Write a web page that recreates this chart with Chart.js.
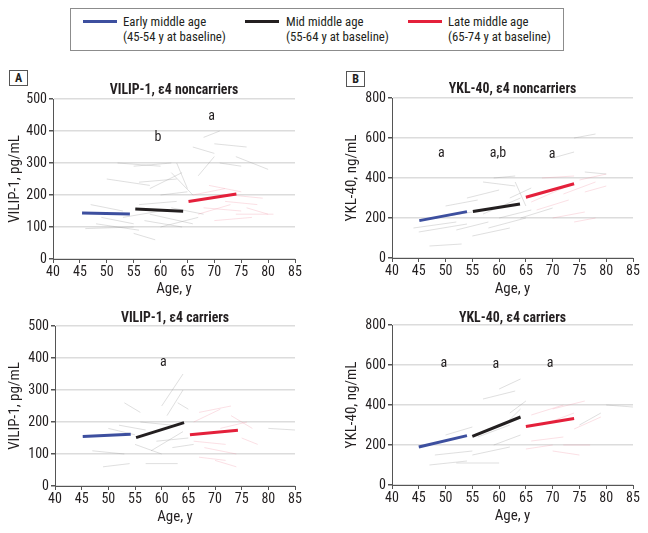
<!DOCTYPE html>
<html>
<head>
<meta charset="utf-8">
<script src="https://cdn.jsdelivr.net/npm/chart.js@4/dist/chart.umd.min.js"></script>
<style>
  body { margin: 0; background: #fff; width: 648px; height: 533px; position: relative; overflow: hidden;
         font-family: "Roboto Condensed", Roboto, sans-serif; color: #231f20; }
  canvas { position: absolute; }
  .legend { position: absolute; left: 70px; top: 8px; width: 492px; height: 41px; border: 1px solid #8c8c8c; }
  .item { position: absolute; top: 5px; font-size: 12.8px; line-height: 15px; }
  .swatch { position: absolute; width: 34px; height: 3px; top: 6px; }
  .item span { position: absolute; white-space: nowrap; }
  .tag { position: absolute; width: 17px; height: 14px; border: 1px solid #555; font-weight: bold;
         font-size: 12px; line-height: 14px; text-align: center; }
</style>
</head>
<body>
<div class="legend">
  <div class="item" style="left:12px"><div class="swatch" style="background:#3d4f9f"></div><span style="left:40px">Early middle age<br>(45-54 y at baseline)</span></div>
  <div class="item" style="left:174px"><div class="swatch" style="background:#231f20"></div><span style="left:41px">Mid middle age<br>(55-64 y at baseline)</span></div>
  <div class="item" style="left:337px"><div class="swatch" style="background:#e4203b"></div><span style="left:40px">Late middle age<br>(65-74 y at baseline)</span></div>
</div>
<div class="tag" style="left:9px;top:70px">A</div>
<div class="tag" style="left:346px;top:71px">B</div>
<canvas id="vilipNon"></canvas>
<canvas id="yklNon"></canvas>
<canvas id="vilipCar"></canvas>
<canvas id="yklCar"></canvas>
<script>
// axis ticks
const ageTicks = [40, 45, 50, 55, 60, 65, 70, 75, 80, 85];
const vilipTicks = [0, 100, 200, 300, 400, 500];
const yklTicks = [0, 200, 400, 600, 800];

const groupColors = ["#3d4f9f", "#231f20", "#e4203b"];

// group mean slopes: [startAge, startValue, endAge, endValue]
const vilipNonMeans = [[45.4, 144, 54.3, 141], [55.3, 156, 64.2, 149], [65.2, 180, 74.1, 203]];
const yklNonMeans = [[45.1, 187, 54.0, 232], [55.1, 232, 63.9, 270], [65.0, 304, 74.0, 371]];
const vilipCarMeans = [[45.2, 155, 54.2, 162], [55.2, 151, 64.2, 198], [65.3, 160, 74.3, 174]];
const yklCarMeans = [[45.0, 190, 54.0, 247], [55.0, 243, 64.0, 340], [65.0, 293, 74.0, 332]];

// individual trajectories (faint), gray and pink
const vilipNonGray = [
  [48, 110, 56, 90], [46, 95, 55, 100], [47, 170, 53, 150], [50, 250, 58, 230], [52, 300, 60, 290],
  [55, 290, 62, 300], [56, 240, 63, 250], [58, 220, 64, 270], [60, 200, 65, 210], [62, 270, 66, 200],
  [63, 300, 65, 220], [66, 350, 70, 330], [67, 260, 70, 320], [68, 380, 71, 400], [70, 360, 76, 350],
  [71, 300, 75, 290], [74, 320, 80, 280], [57, 120, 64, 100], [55, 80, 59, 60], [58, 140, 66, 110],
  [60, 100, 67, 130], [53, 130, 60, 150], [62, 160, 68, 140], [49, 130, 55, 110], [56, 170, 63, 180]
];
const vilipNonPink = [
  [66, 200, 72, 220], [68, 160, 75, 150], [72, 180, 78, 170], [74, 140, 81, 140], [70, 120, 77, 130],
  [73, 200, 79, 190], [67, 140, 73, 170], [76, 160, 80, 140], [69, 230, 75, 210]
];
const yklNonGray = [
  [44, 150, 52, 180], [45, 130, 54, 170], [47, 60, 53, 70], [50, 260, 56, 290], [54, 300, 60, 340],
  [57, 380, 63, 360], [59, 400, 63, 410], [60, 200, 66, 240], [58, 150, 65, 200], [55, 110, 62, 150],
  [62, 300, 66, 350], [63, 380, 65, 260], [48, 200, 55, 230], [52, 140, 58, 180], [64, 200, 70, 250],
  [57, 220, 64, 300], [76, 430, 80, 420], [74, 600, 78, 620], [70, 500, 74, 530]
];
const yklNonPink = [
  [66, 280, 72, 350], [68, 400, 74, 410], [70, 200, 76, 230], [72, 320, 78, 380], [74, 180, 78, 200],
  [75, 390, 80, 420], [76, 330, 80, 360], [67, 240, 73, 290]
];
const vilipCarGray = [
  [49, 60, 54, 70], [57, 70, 63, 70], [52, 190, 57, 175], [53, 260, 56, 230], [55, 130, 60, 100],
  [56, 200, 62, 190], [58, 110, 64, 170], [60, 250, 64, 350], [61, 220, 64, 300], [59, 140, 65, 150],
  [47, 110, 53, 100], [50, 180, 55, 160], [62, 120, 66, 130], [80, 180, 85, 175], [63, 260, 65, 240]
];
const vilipCarPink = [
  [66, 200, 71, 240], [67, 230, 73, 250], [68, 120, 74, 100], [70, 80, 74, 60], [66, 140, 72, 130],
  [71, 180, 76, 200], [73, 220, 77, 180], [75, 150, 78, 130], [67, 90, 72, 80]
];
const yklCarGray = [
  [47, 100, 54, 120], [48, 150, 55, 170], [50, 250, 55, 290], [52, 110, 60, 110], [55, 150, 62, 190],
  [57, 430, 63, 470], [60, 480, 64, 530], [59, 200, 64, 250], [61, 300, 64, 380], [62, 360, 65, 420],
  [56, 240, 62, 300], [80, 400, 85, 390], [75, 300, 79, 360]
];
const yklCarPink = [
  [66, 350, 72, 400], [68, 300, 74, 360], [70, 380, 76, 420], [66, 220, 72, 240], [70, 170, 75, 150],
  [72, 200, 77, 200], [74, 280, 79, 340], [65, 180, 70, 200]
];

// significance marks: [age, value, text]
const vilipNonMarks = [[59.5, 381, "b"], [69.5, 444, "a"]];
const yklNonMarks = [[49.2, 521, "a"], [59.8, 524, "a,b"], [69.9, 516, "a"]];
const vilipCarMarks = [[60.3, 387, "a"]];
const yklCarMarks = [[49.7, 607, "a"], [59.4, 603, "a"], [69.5, 607, "a"]];

const FONT = "'Roboto Condensed', Roboto, sans-serif";
const INK = "#231f20";

// panel title over the plot area plus the significance letters
const panelText = {
  id: "panelText",
  afterDatasetsDraw(chart, args, opts) {
    const { ctx, scales, chartArea } = chart;
    ctx.save();
    ctx.fillStyle = INK;
    ctx.textAlign = "center";
    ctx.textBaseline = "middle";
    ctx.font = "bold 13.8px " + FONT;
    ctx.fillText(opts.title, (chartArea.left + chartArea.right) / 2, opts.titleY);
    ctx.font = "14px " + FONT;
    (opts.marks || []).forEach(([x, y, t]) => {
      ctx.fillText(t, scales.x.getPixelForValue(x), scales.y.getPixelForValue(y));
    });
    ctx.restore();
  },
};

function segs(list, color, width) {
  return list.map((s) => ({
    data: [{ x: s[0], y: s[1] }, { x: s[2], y: s[3] }],
    borderColor: color,
    borderWidth: width,
    pointRadius: 0,
  }));
}

// box: page position of the canvas, plot: page position of the plot area
function makePanel(id, box, plot, title, yTitle, yTicks, yMax, means, gray, pink, marks) {
  const el = document.getElementById(id);
  el.style.left = box.left + "px";
  el.style.top = box.top + "px";
  el.width = box.w;
  el.height = box.h;

  const meanSets = means.map((m, i) => ({
    data: [{ x: m[0], y: m[1] }, { x: m[2], y: m[3] }],
    borderColor: groupColors[i],
    borderWidth: 3,
    pointRadius: 0,
  }));

  const yWidth = plot.left - box.left;
  const xHeight = box.top + box.h - plot.bottom;

  new Chart(el, {
    type: "line",
    data: {
      datasets: [
        ...meanSets,
        ...segs(pink, "rgba(238,130,150,0.25)", 1),
        ...segs(gray, "rgba(150,150,150,0.3)", 1),
      ],
    },
    options: {
      responsive: false,
      animation: false,
      layout: {
        padding: { left: 0, right: box.left + box.w - plot.right, top: plot.top - box.top, bottom: 0 },
      },
      plugins: {
        legend: { display: false },
        tooltip: { enabled: false },
        panelText: { title: title, titleY: plot.titleY - box.top, marks: marks },
      },
      scales: {
        x: {
          type: "linear",
          min: 40,
          max: 85,
          afterBuildTicks: (s) => { s.ticks = ageTicks.map((v) => ({ value: v })); },
          afterFit: (s) => { s.height = xHeight; },
          grid: { drawOnChartArea: false, tickLength: 4, tickColor: "#555" },
          border: { color: "#555", width: 1 },
          ticks: { color: INK, font: { family: FONT, size: 14 }, padding: 1, maxRotation: 0 },
          title: {
            display: true,
            text: "Age, y",
            color: INK,
            font: { family: FONT, size: 15, lineHeight: 1.2 },
            padding: { top: 0, bottom: 2 },
          },
        },
        y: {
          min: 0,
          max: yMax,
          afterBuildTicks: (s) => { s.ticks = yTicks.map((v) => ({ value: v })); },
          afterFit: (s) => { s.width = yWidth; },
          grid: { color: "#dcdcdc", lineWidth: 1.5, tickLength: 4, tickColor: "#555" },
          border: { color: "#555", width: 1 },
          ticks: { color: INK, font: { family: FONT, size: 14 }, padding: 2 },
          title: {
            display: true,
            text: yTitle,
            color: INK,
            font: { family: FONT, size: 15, lineHeight: 1.2 },
            padding: { top: plot.yTitleX - box.left - 9, bottom: 0 },
          },
        },
      },
    },
    plugins: [panelText],
  });
}

makePanel("vilipNon", { left: 0, top: 60, w: 324, h: 240 },
  { left: 53, right: 295, top: 99, bottom: 259, yTitleX: 15, titleY: 91 },
  "VILIP-1, ε4 noncarriers", "VILIP-1, pg/mL", vilipTicks, 500,
  vilipNonMeans, vilipNonGray, vilipNonPink, vilipNonMarks);

makePanel("yklNon", { left: 324, top: 60, w: 324, h: 240 },
  { left: 392, right: 633, top: 98, bottom: 258, yTitleX: 352, titleY: 90 },
  "YKL-40, ε4 noncarriers", "YKL-40, ng/mL", yklTicks, 800,
  yklNonMeans, yklNonGray, yklNonPink, yklNonMarks);

makePanel("vilipCar", { left: 0, top: 295, w: 324, h: 233 },
  { left: 55, right: 295, top: 326, bottom: 486, yTitleX: 15, titleY: 319 },
  "VILIP-1, ε4 carriers", "VILIP-1, pg/mL", vilipTicks, 500,
  vilipCarMeans, vilipCarGray, vilipCarPink, vilipCarMarks);

makePanel("yklCar", { left: 324, top: 295, w: 324, h: 232 },
  { left: 392, right: 633, top: 325, bottom: 485, yTitleX: 352, titleY: 319 },
  "YKL-40, ε4 carriers", "YKL-40, ng/mL", yklTicks, 800,
  yklCarMeans, yklCarGray, yklCarPink, yklCarMarks);
</script>
</body>
</html>
